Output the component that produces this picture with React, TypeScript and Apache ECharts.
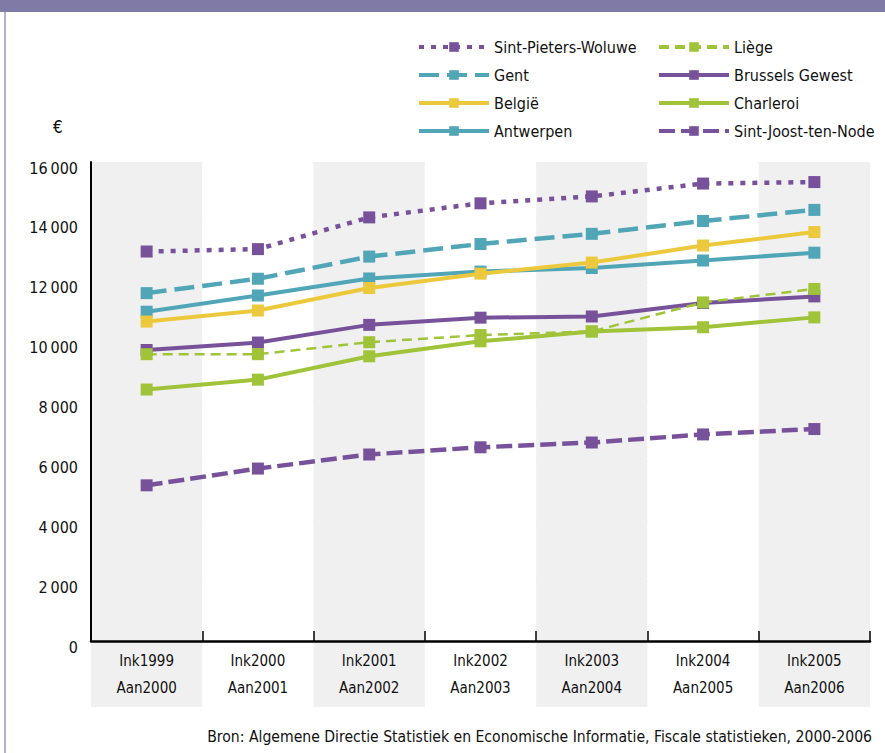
import React, { useEffect, useRef } from "react";
import * as echarts from "echarts";

const categories = [
  "Ink1999\nAan2000",
  "Ink2000\nAan2001",
  "Ink2001\nAan2002",
  "Ink2002\nAan2003",
  "Ink2003\nAan2004",
  "Ink2004\nAan2005",
  "Ink2005\nAan2006",
];
const sintPietersWoluwe = [13010, 13090, 14150, 14620, 14850, 15280, 15330];
const gent = [11620, 12100, 12840, 13260, 13600, 14030, 14400];
const belgie = [10670, 11040, 11790, 12270, 12640, 13210, 13660];
const antwerpen = [11000, 11540, 12110, 12340, 12460, 12710, 12970];
const liege = [9580, 9580, 9980, 10220, 10340, 11310, 11760];
const brusselsGewest = [9720, 9970, 10560, 10800, 10840, 11290, 11510];
const charleroi = [8400, 8730, 9510, 10010, 10340, 10480, 10810];
const sintJoostTenNode = [5200, 5760, 6230, 6470, 6630, 6900, 7080];
const yMin = 0;
const yMax = 16000;
const yInterval = 2000;
const legendCol1 = ["Sint-Pieters-Woluwe", "Gent", "België", "Antwerpen"];
const legendCol2 = ["Liège", "Brussels Gewest", "Charleroi", "Sint-Joost-ten-Node"];
const sourceText =
  "Bron: Algemene Directie Statistiek en Economische Informatie, Fiscale statistieken, 2000-2006";

const FONT = "'DejaVu Sans Condensed', 'Liberation Sans Narrow', sans-serif";
const PURPLE = "#77529a";
const TEAL = "#50a6b6";
const YELLOW = "#ecc93c";
const GREEN = "#a0c33a";

function fmt(v: number) {
  const s = String(v);
  if (s.length <= 3) return s;
  return s.slice(0, s.length - 3) + "\u2009" + s.slice(s.length - 3);
}

export default function App() {
  const ref = useRef<HTMLDivElement>(null);
  useEffect(() => {
    if (!ref.current) return;
    const chart = echarts.init(ref.current, undefined, { renderer: "svg" });
    const mk = (
      name: string,
      data: number[],
      color: string,
      width: number,
      type: any,
      z: number
    ) => ({
      name,
      type: "line",
      data,
      symbol: "rect",
      symbolSize: 12,
      z,
      itemStyle: { color },
      lineStyle: { color, width, type, cap: "butt" },
      emphasis: { disabled: true },
    });
    const series = [
      mk("Sint-Joost-ten-Node", sintJoostTenNode, PURPLE, 4.5, [16, 6], 2),
      mk("Charleroi", charleroi, GREEN, 4, "solid", 3),
      mk("Brussels Gewest", brusselsGewest, PURPLE, 4, "solid", 4),
      mk("Liège", liege, GREEN, 2.5, [10, 6], 5),
      mk("Antwerpen", antwerpen, TEAL, 4, "solid", 6),
      mk("België", belgie, YELLOW, 4, "solid", 7),
      mk("Gent", gent, TEAL, 4.5, [20, 8], 8),
      mk("Sint-Pieters-Woluwe", sintPietersWoluwe, PURPLE, 4.5, [5, 7], 9),
    ];
    const legendBase = {
      orient: "vertical",
      top: 34,
      itemWidth: 70,
      itemHeight: 12,
      itemGap: 12,
      selectedMode: false,
      lineStyle: { width: 4 },
      textStyle: { fontFamily: FONT, fontSize: 16, lineHeight: 16, color: "#111" },
    };
    const option: any = {
      animation: false,
      backgroundColor: "#ffffff",
      grid: { left: 91, right: 15, top: 162, bottom: 112, containLabel: false },
      legend: [
        { ...legendBase, left: 412, data: legendCol1 },
        { ...legendBase, left: 652, data: legendCol2 },
      ],
      xAxis: {
        type: "category",
        data: categories,
        boundaryGap: true,
        axisLine: { show: true, lineStyle: { color: "#000", width: 2.5 } },
        axisTick: { show: true, inside: true, length: 10, lineStyle: { color: "#000", width: 1.5 } },
        axisLabel: {
          fontFamily: FONT,
          fontSize: 15,
          color: "#111",
          lineHeight: 27,
          margin: 6,
          interval: 0,
        },
        splitLine: { show: false },
        splitArea: { show: true, areaStyle: { color: ["#f0f0f0", "#ffffff"] } },
      },
      yAxis: {
        type: "value",
        min: yMin,
        max: yMax,
        interval: yInterval,
        axisLine: { show: true, lineStyle: { color: "#000", width: 2 } },
        axisTick: { show: false },
        axisLabel: {
          fontFamily: FONT,
          fontSize: 16,
          color: "#111",
          margin: 13,
          verticalAlign: "top",
          lineHeight: 12,
          formatter: (v: number) => fmt(v),
        },
        splitLine: { show: true, lineStyle: { color: "#cacaca", width: 1 } },
      },
      series,
    };
    chart.setOption(option);

    const x0 = chart.convertToPixel({ xAxisIndex: 0 }, categories[0]) as number;
    const x1 = chart.convertToPixel({ xAxisIndex: 0 }, categories[1]) as number;
    const bw = x1 - x0;
    const yZero = chart.convertToPixel({ yAxisIndex: 0 }, 0) as number;
    const bands: any[] = [];
    categories.forEach((c, i) => {
      if (i % 2 !== 0) return;
      const cx = chart.convertToPixel({ xAxisIndex: 0 }, c) as number;
      bands.push({
        type: "rect",
        id: "band" + i,
        z: -10,
        silent: true,
        shape: { x: cx - bw / 2, y: yZero, width: bw, height: 66 },
        style: { fill: "#f0f0f0" },
      });
    });
    chart.setOption({
      graphic: [
        ...bands,
        {
          type: "rect",
          id: "header",
          z: -10,
          shape: { x: 0, y: 0, width: 885, height: 12 },
          style: { fill: "#7f7ba6" },
        },
        {
          type: "line",
          id: "leftborder",
          shape: { x1: 5, y1: 12, x2: 5, y2: 753 },
          style: { stroke: "#9a97bf", lineWidth: 1.5 },
        },
        {
          type: "text",
          id: "euro",
          x: 53,
          y: 118,
          style: { text: "€", font: `17px ${FONT}`, fill: "#111" },
        },
        {
          type: "text",
          id: "source",
          x: 872,
          y: 737,
          style: {
            text: sourceText,
            font: `15.6px ${FONT}`,
            fill: "#111",
            align: "right",
            verticalAlign: "middle",
          },
        },
      ],
    });
    return () => chart.dispose();
  }, []);
  return (
    <div
      ref={ref}
      style={{ position: "fixed", left: 0, top: 0, width: 885, height: 753 }}
    />
  );
}
